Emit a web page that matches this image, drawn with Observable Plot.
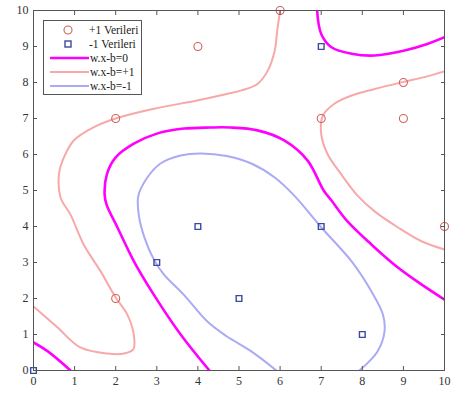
<!DOCTYPE html>
<html>
<head>
<meta charset="utf-8">
<script src="https://cdn.jsdelivr.net/npm/d3@7"></script>
<script src="https://cdn.jsdelivr.net/npm/@observablehq/plot@0.6"></script>
<style>
  body { margin: 0; background: #fff; }
  #chart { width: 454px; height: 394px; }
</style>
</head>
<body>
<div id="chart"></div>
<script>
// Training samples
const plusPoints = [[2, 7], [4, 9], [6, 10], [7, 7], [9, 8], [9, 7], [10, 4], [2, 2]];
const minusPoints = [[0, 0], [7, 9], [3, 3], [4, 4], [7, 4], [5, 2], [8, 1]];

// Decision boundary w.x-b=0 (three pieces)
const zeroLevelA = [[0, 0.78], [0.35, 0.53], [0.9, 0]];
const zeroLevelB = [[4.28, 0], [3.58, 1.0], [2.93, 2.1], [2.44, 3.04], [2.04, 3.98], [1.78, 4.6], [1.73, 4.9],
  [1.79, 5.47], [2.0, 5.92], [2.44, 6.3], [3.0, 6.58], [3.66, 6.72], [4.3, 6.75], [4.79, 6.75], [5.45, 6.67],
  [6.1, 6.39], [6.67, 5.83], [7.06, 5.0], [7.25, 4.72], [7.64, 4.14], [8.22, 3.5], [8.78, 2.94], [9.34, 2.47], [10, 1.97]];
const zeroLevelC = [[6.9, 10], [7.0, 9.35], [7.25, 8.98], [7.74, 8.8], [8.3, 8.75], [9.03, 8.89], [9.58, 9.07], [10, 9.26]];

// Margin w.x-b=+1 (two pieces)
const plusLevelA = [[6.0, 10], [5.93, 9.44], [5.87, 8.89], [5.7, 8.33], [5.45, 7.96], [5.06, 7.78], [4.7, 7.68],
  [3.98, 7.5], [2.93, 7.27], [2.0, 7.0], [1.47, 6.76], [0.98, 6.39], [0.74, 5.92], [0.62, 5.46], [0.66, 4.8],
  [0.9, 4.33], [1.22, 3.5], [1.63, 2.76], [2.0, 2.03], [2.28, 1.56], [2.44, 1.0], [2.43, 0.59], [2.2, 0.47],
  [1.8, 0.47], [1.14, 0.64], [0.58, 1.2], [0, 1.78]];
const plusLevelB = [[10, 8.31], [9.51, 8.15], [8.98, 8.01], [8.3, 7.82], [7.74, 7.64], [7.32, 7.41], [7.04, 7.08],
  [7.0, 6.57], [7.15, 6.02], [7.48, 5.46], [7.89, 4.85], [8.3, 4.42], [8.86, 3.98], [9.44, 3.59], [10, 3.36]];

// Margin w.x-b=-1
const minusLevel = [[5.91, 0], [5.3, 0.53], [4.7, 0.95], [4.23, 1.36], [3.66, 2.1], [3.17, 2.67], [2.93, 3.08],
  [2.7, 3.69], [2.56, 4.33], [2.55, 4.85], [2.77, 5.36], [3.09, 5.75], [3.58, 5.97], [4.06, 6.03], [4.7, 5.96],
  [5.3, 5.75], [5.87, 5.36], [6.35, 4.85], [7.0, 3.98], [7.74, 3.03], [8.22, 2.2], [8.5, 1.56], [8.54, 1.08],
  [8.37, 0.53], [7.93, 0]];

const ticks = [0, 1, 2, 3, 4, 5, 6, 7, 8, 9, 10];
const legendLabels = ["+1 Verileri", "-1 Verileri", "w.x-b=0", "w.x-b=+1", "w.x-b=-1"];

const colors = { zero: "#ff00ff", plus: "#f7a8a8", minus: "#aaaaf5", circle: "#d0605a", square: "#3a4a9c" };

const toRows = (pts, seg) => pts.map(([x, y]) => ({ x, y, seg }));
const zeroRows = [...toRows(zeroLevelA, "a"), ...toRows(zeroLevelB, "b"), ...toRows(zeroLevelC, "c")];
const plusRows = [...toRows(plusLevelA, "a"), ...toRows(plusLevelB, "b")];
const minusRows = toRows(minusLevel, "a");

const noLabel = () => "";
const lineOpts = { x: "x", y: "y", z: "seg", curve: "catmull-rom", clip: true };

const chart = Plot.plot({
  width: 454,
  height: 394,
  marginLeft: 33,
  marginRight: 10,
  marginTop: 10,
  marginBottom: 24,
  x: { domain: [0, 10], label: null },
  y: { domain: [0, 10], label: null },
  style: { fontFamily: "Liberation Serif", fontSize: "12px", color: "#333", background: "#fff" },
  marks: [
    Plot.line(plusRows, { ...lineOpts, stroke: colors.plus, strokeWidth: 2 }),
    Plot.line(minusRows, { ...lineOpts, stroke: colors.minus, strokeWidth: 2 }),
    Plot.line(zeroRows, { ...lineOpts, stroke: colors.zero, strokeWidth: 2.6 }),
    Plot.dot(plusPoints, { x: d => d[0], y: d => d[1], r: 4, stroke: colors.circle, strokeWidth: 1.1, symbol: "circle" }),
    Plot.dot(minusPoints, { x: d => d[0], y: d => d[1], r: 3.2, stroke: colors.square, strokeWidth: 1.4, symbol: "square" }),
    Plot.frame({ stroke: "#555" }),
    Plot.axisX({ ticks, anchor: "bottom", tickSize: -4, tickFormat: noLabel, stroke: "#555", label: null }),
    Plot.axisX({ ticks, anchor: "top", tickSize: -4, tickFormat: noLabel, stroke: "#555", label: null }),
    Plot.axisY({ ticks, anchor: "left", tickSize: -4, tickFormat: noLabel, stroke: "#555", label: null }),
    Plot.axisY({ ticks, anchor: "right", tickSize: -4, tickFormat: noLabel, stroke: "#555", label: null }),
    Plot.axisX({ ticks, anchor: "bottom", tickSize: 0, tickPadding: 6, fill: "#333", label: null }),
    Plot.axisY({ ticks, anchor: "left", tickSize: 0, tickPadding: 5, fill: "#333", label: null })
  ]
});

// Legend box in the upper-left corner of the plot
const svg = d3.select(chart);
const lg = svg.append("g").attr("font-family", "Liberation Serif").attr("font-size", 11.5)
  .attr("fill", "#222").attr("text-anchor", "start");
lg.append("rect").attr("x", 43.5).attr("y", 20.5).attr("width", 98).attr("height", 74)
  .attr("fill", "#fff").attr("stroke", "#555").attr("stroke-width", 1);
const rowY = i => 30 + i * 14;
lg.append("circle").attr("cx", 68).attr("cy", rowY(0)).attr("r", 4)
  .attr("fill", "none").attr("stroke", colors.circle).attr("stroke-width", 1.1);
lg.append("rect").attr("x", 65).attr("y", rowY(1) - 3).attr("width", 6).attr("height", 6)
  .attr("fill", "none").attr("stroke", colors.square).attr("stroke-width", 1.4);
[[colors.zero, 2.6], [colors.plus, 2], [colors.minus, 2]].forEach(([c, w], i) => {
  lg.append("line").attr("x1", 50).attr("x2", 89).attr("y1", rowY(i + 2)).attr("y2", rowY(i + 2))
    .attr("stroke", c).attr("stroke-width", w);
});
legendLabels.forEach((t, i) => {
  lg.append("text").attr("x", i < 2 ? 89 : 90).attr("y", rowY(i)).attr("dy", "0.35em").text(t);
});

document.getElementById("chart").append(chart);
</script>
</body>
</html>
